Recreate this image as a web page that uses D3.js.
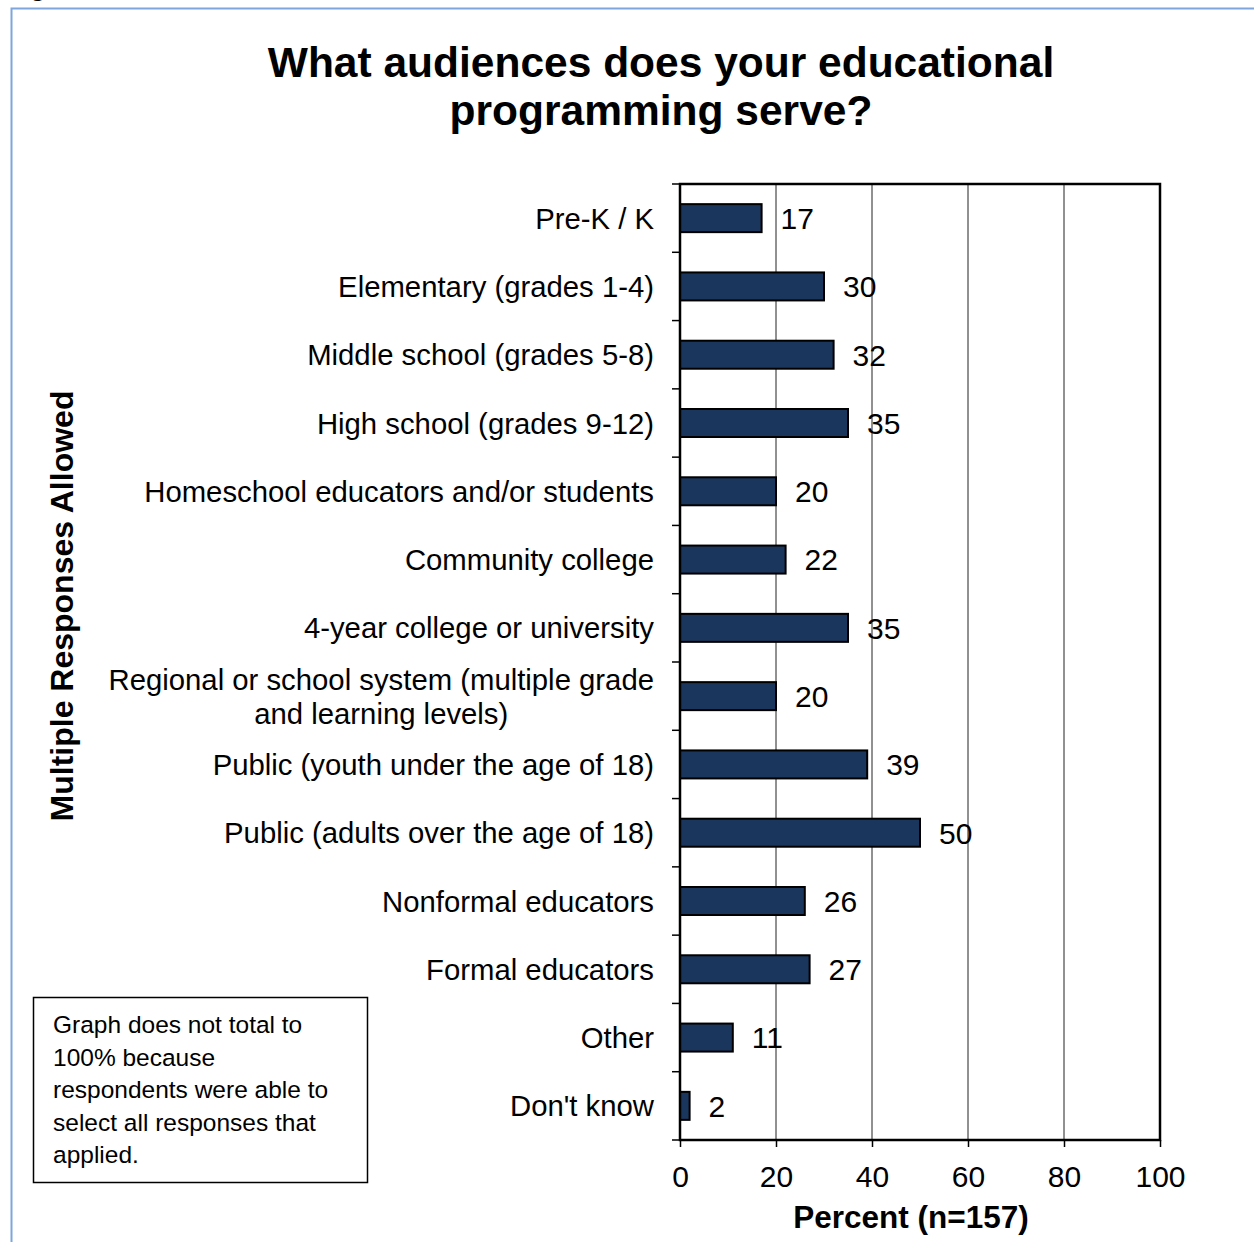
<!DOCTYPE html>
<html>
<head>
<meta charset="utf-8">
<script src="https://cdn.jsdelivr.net/npm/d3@7"></script>
<style>
  body { margin: 0; background: #fff; }
  text { font-family: "Liberation Sans", Arial, sans-serif; }
</style>
</head>
<body>
<svg id="chart" width="1254" height="1242"></svg>
<script>
var categories = [
    "Pre-K / K",
    "Elementary (grades 1-4)",
    "Middle school (grades 5-8)",
    "High school (grades 9-12)",
    "Homeschool educators and/or students",
    "Community college",
    "4-year college or university",
    "Regional or school system (multiple grade|and learning levels)",
    "Public (youth under the age of 18)",
    "Public (adults over the age of 18)",
    "Nonformal educators",
    "Formal educators",
    "Other",
    "Don't know"
];
var percents = [17, 30, 32, 35, 20, 22, 35, 20, 39, 50, 26, 27, 11, 2];
var xTicks = [0, 20, 40, 60, 80, 100];
var titleLines = ["What audiences does your educational", "programming serve?"];
var noteLines = ["Graph does not total to", "100% because", "respondents were able to",
    "select all responses that", "applied."];

var svg = d3.select('#chart');

// outer frame (only left and top visible)
svg.append('path')
    .attr('d', 'M11.5,1242 V8.5 H1254')
    .attr('fill', 'none')
    .attr('stroke', '#7ea6dc')
    .attr('stroke-width', 2);

// cut-off caption remnant
svg.append('text')
    .attr('x', 30)
    .attr('y', -4)
    .attr('font-size', 26)
    .attr('font-weight', 'bold')
    .text('g');

var plotLeft = 680, plotRight = 1160, plotTop = 184, plotBottom = 1140;

var x = d3.scaleLinear().domain([0, 100]).range([plotLeft, plotRight]);
var y = d3.scaleBand().domain(categories).range([plotTop, plotBottom]).paddingInner(0.59).paddingOuter(0.295);
var yEdge = d3.scaleLinear().domain([0, categories.length]).range([plotTop, plotBottom]);

svg.selectAll('text.title')
    .data(titleLines)
    .enter()
    .append('text')
    .attr('class', 'title')
    .attr('x', 661)
    .attr('y', function (d, i) { return 77 + i * 48; })
    .attr('text-anchor', 'middle')
    .attr('font-size', 42.5)
    .attr('font-weight', 'bold')
    .text(function (d) { return d; });

// gridlines
svg.append('g')
    .selectAll('line')
    .data(xTicks.slice(1, -1))
    .enter()
    .append('line')
    .attr('x1', function (d) { return x(d); })
    .attr('x2', function (d) { return x(d); })
    .attr('y1', plotTop)
    .attr('y2', plotBottom)
    .attr('stroke', '#222')
    .attr('stroke-width', 1);

// bars
svg.append('g')
    .selectAll('rect')
    .data(percents)
    .enter()
    .append('rect')
    .attr('x', x(0))
    .attr('y', function (d, i) { return y(categories[i]); })
    .attr('width', function (d) { return x(d) - x(0); })
    .attr('height', y.bandwidth())
    .attr('fill', '#1b365d')
    .attr('stroke', '#000')
    .attr('stroke-width', 2);

// value labels
svg.append('g')
    .selectAll('text')
    .data(percents)
    .enter()
    .append('text')
    .attr('x', function (d) { return x(d) + 19; })
    .attr('y', function (d, i) { return y(categories[i]) + y.bandwidth() / 2; })
    .attr('dy', '0.36em')
    .attr('font-size', 30)
    .text(function (d) { return d; });

// plot frame
svg.append('rect')
    .attr('x', plotLeft)
    .attr('y', plotTop)
    .attr('width', plotRight - plotLeft)
    .attr('height', plotBottom - plotTop)
    .attr('fill', 'none')
    .attr('stroke', '#000')
    .attr('stroke-width', 2.5);

// y tick marks at category boundaries
svg.append('g')
    .selectAll('line')
    .data(d3.range(categories.length + 1))
    .enter()
    .append('line')
    .attr('x1', plotLeft - 8)
    .attr('x2', plotLeft)
    .attr('y1', function (d) { return yEdge(d); })
    .attr('y2', function (d) { return yEdge(d); })
    .attr('stroke', '#000')
    .attr('stroke-width', 1.5);

// category labels (multi-line ones are centred on their widest line)
var cat = svg.append('g')
    .selectAll('text')
    .data(categories)
    .enter()
    .append('text')
    .attr('y', function (d) { return y(d) + y.bandwidth() / 2; })
    .attr('text-anchor', 'end')
    .attr('font-size', 29.3);

cat.each(function (d) {
    var lines = d.split('|');
    var t = d3.select(this);
    if (lines.length === 1) {
        t.append('tspan').attr('x', 654).attr('dy', '0.36em').text(d);
        return;
    }
    var spans = lines.map(function (l, i) {
        return t.append('tspan')
            .attr('dy', i === 0 ? (0.36 - (lines.length - 1) * 0.58) + 'em' : '1.16em')
            .text(l);
    });
    var widest = d3.max(spans, function (s) { return s.node().getComputedTextLength(); });
    t.attr('text-anchor', 'middle');
    spans.forEach(function (s) { s.attr('x', 654 - widest / 2); });
});

// x axis
var xAxis = svg.append('g')
    .attr('transform', 'translate(0,' + plotBottom + ')')
    .call(d3.axisBottom(x).tickValues(xTicks).tickSize(7).tickPadding(19));
xAxis.select('.domain').remove();
xAxis.selectAll('line').attr('stroke', '#000').attr('stroke-width', 1.5);
xAxis.selectAll('text')
    .attr('font-size', 30)
    .attr('font-family', '"Liberation Sans", Arial, sans-serif')
    .attr('fill', '#000');

svg.append('text')
    .attr('x', 911)
    .attr('y', 1228)
    .attr('text-anchor', 'middle')
    .attr('font-size', 31.5)
    .attr('font-weight', 'bold')
    .text('Percent (n=157)');

svg.append('text')
    .attr('transform', 'translate(73,606) rotate(-90)')
    .attr('text-anchor', 'middle')
    .attr('font-size', 32)
    .attr('font-weight', 'bold')
    .text('Multiple Responses Allowed');

// note box
svg.append('rect')
    .attr('x', 33.5)
    .attr('y', 997.5)
    .attr('width', 334)
    .attr('height', 185)
    .attr('fill', '#fff')
    .attr('stroke', '#000')
    .attr('stroke-width', 1.5);

svg.append('g')
    .selectAll('text')
    .data(noteLines)
    .enter()
    .append('text')
    .attr('x', 53)
    .attr('y', function (d, i) { return 1033 + i * 32.5; })
    .attr('font-size', 24.5)
    .attr('font-family', '"Open Sans", "Noto Sans", sans-serif')
    .text(function (d) { return d; });
</script>
</body>
</html>
